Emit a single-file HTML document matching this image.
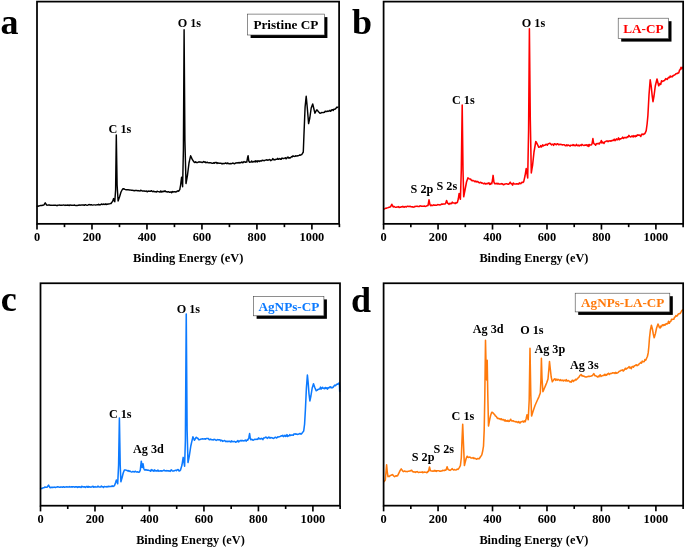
<!DOCTYPE html>
<html><head><meta charset="utf-8"><title>XPS survey spectra</title>
<style>
html,body{margin:0;padding:0;background:#fff;}
body{width:685px;height:547px;overflow:hidden;}
svg{will-change:transform;}
svg text{font-family:"Liberation Serif",serif;font-weight:bold;}
.tk{font-size:12.4px;fill:#000;}
.tt{font-size:12.5px;fill:#000;}
.lb{font-size:12.2px;fill:#000;}
.lg{font-size:13.2px;}
.pl{font-size:36px;fill:#000;}
</style></head><body>
<svg width="685" height="547" viewBox="0 0 685 547" style="display:block">
<rect x="0" y="0" width="685" height="547" fill="#ffffff"/>
<polyline fill="none" stroke="#000000" stroke-width="1.45" stroke-linejoin="round" stroke-linecap="round" points="37.20,206.26 37.96,206.24 38.72,205.98 39.48,205.83 40.24,205.58 41.00,205.58 41.75,205.59 42.50,205.27 43.25,205.18 44.00,204.80 44.60,203.80 45.20,202.80 45.90,203.90 46.60,205.00 47.28,205.15 47.96,205.21 48.64,204.88 49.32,204.93 50.00,205.22 50.71,205.21 51.43,205.34 52.14,205.27 52.86,205.36 53.57,205.15 54.29,205.31 55.00,205.32 55.71,205.12 56.43,205.55 57.14,205.33 57.86,205.44 58.57,205.10 59.29,205.07 60.00,205.17 60.71,205.18 61.43,205.33 62.14,205.26 62.86,205.13 63.57,205.04 64.29,205.13 65.00,205.47 65.71,205.08 66.43,205.29 67.14,205.33 67.86,204.97 68.57,205.27 69.29,205.52 70.00,204.87 70.71,205.21 71.43,205.26 72.14,205.12 72.86,205.38 73.57,205.28 74.29,205.00 75.00,205.38 75.71,205.42 76.43,205.46 77.14,205.55 77.86,205.32 78.57,205.25 79.29,204.95 80.00,205.33 80.71,205.06 81.43,205.08 82.14,204.90 82.86,204.94 83.57,205.02 84.29,205.38 85.00,204.68 85.71,204.78 86.43,205.12 87.14,205.36 87.86,205.16 88.57,204.63 89.29,204.48 90.00,205.04 90.71,204.81 91.43,204.70 92.14,205.12 92.86,205.12 93.57,204.89 94.29,204.88 95.00,204.89 95.71,205.12 96.43,204.88 97.14,204.83 97.86,204.81 98.57,204.31 99.29,204.91 100.00,204.71 100.73,204.66 101.45,204.05 102.18,204.29 102.91,204.57 103.64,203.92 104.36,204.23 105.09,204.45 105.82,203.87 106.55,204.47 107.27,204.18 108.00,203.98 108.75,203.92 109.50,203.85 110.25,203.58 111.00,203.53 111.80,202.30 112.60,201.50 113.60,198.60 114.20,200.20 114.80,201.80 115.60,190.00 116.30,135.00 117.10,185.00 118.10,201.00 118.80,199.00 119.50,197.00 120.25,194.50 121.00,192.00 121.80,190.50 122.60,189.00 123.40,188.79 124.20,189.01 125.00,189.38 125.71,189.68 126.43,189.71 127.14,189.68 127.86,189.74 128.57,189.84 129.29,190.04 130.00,189.98 130.71,190.13 131.43,190.26 132.14,190.17 132.86,190.42 133.57,190.43 134.29,190.85 135.00,190.48 135.71,190.35 136.43,190.42 137.14,190.57 137.86,190.86 138.57,190.60 139.29,190.84 140.00,191.04 140.71,190.17 141.43,190.58 142.14,190.97 142.86,191.05 143.57,191.04 144.29,190.90 145.00,191.22 145.71,191.16 146.43,190.98 147.14,191.80 147.86,191.29 148.57,191.08 149.29,191.24 150.00,191.27 150.71,191.32 151.43,190.64 152.14,191.28 152.86,191.71 153.57,191.16 154.29,191.50 155.00,191.81 155.71,191.82 156.43,192.03 157.14,191.19 157.86,191.60 158.57,191.64 159.29,191.94 160.00,191.95 160.67,191.03 161.33,192.03 162.00,191.30 162.67,191.86 163.33,191.22 164.00,191.62 165.00,190.67 166.00,191.68 166.71,191.78 167.43,191.98 168.14,191.83 168.86,191.79 169.57,192.28 170.29,192.17 171.00,191.86 171.71,192.65 172.43,191.51 173.14,192.08 173.86,191.71 174.57,191.80 175.29,191.93 176.00,191.73 176.65,191.76 177.30,191.01 177.95,190.89 178.60,191.20 179.20,190.40 179.80,189.60 180.60,185.00 181.60,177.20 182.60,186.70 183.40,150.00 184.10,29.70 184.90,140.00 185.45,161.75 186.00,183.50 186.75,179.25 187.50,175.00 188.25,169.00 189.00,163.00 189.80,159.40 190.60,155.80 191.45,157.65 192.30,159.50 192.90,160.37 193.50,161.23 194.10,162.10 194.84,162.55 195.57,161.76 196.31,162.41 197.05,162.51 197.79,162.49 198.53,161.97 199.26,161.78 200.00,162.16 200.71,162.09 201.43,162.14 202.14,162.60 202.86,162.12 203.57,161.53 204.29,162.18 205.00,161.77 205.71,162.66 206.43,162.55 207.14,162.31 207.86,162.55 208.57,162.87 209.29,162.68 210.00,162.91 210.71,162.72 211.43,163.12 212.14,163.31 212.86,163.39 213.57,162.70 214.29,163.24 215.00,162.39 215.71,162.69 216.43,162.45 217.14,163.48 217.86,162.77 218.57,163.21 219.29,163.19 220.00,163.30 220.69,163.12 221.38,163.41 222.07,163.94 222.76,163.37 223.45,163.55 224.14,163.72 224.83,163.34 225.52,163.00 226.21,163.25 226.90,163.81 227.59,162.91 228.28,163.28 228.97,163.83 229.66,163.78 230.35,163.53 231.04,163.81 231.73,163.61 232.42,163.17 233.11,163.05 233.80,163.49 234.49,163.83 235.18,163.23 235.87,163.02 236.56,162.98 237.24,162.63 237.93,163.03 238.62,162.57 239.31,163.01 240.00,162.39 240.68,162.84 241.36,162.44 242.04,161.91 242.72,162.77 243.40,162.35 244.08,161.60 244.76,162.00 245.44,162.34 246.12,162.01 246.80,162.10 247.50,158.00 248.10,155.80 248.80,161.00 249.60,162.24 250.29,162.15 250.99,162.00 251.68,161.02 252.37,162.00 253.07,162.07 253.76,161.41 254.45,161.27 255.15,162.06 255.84,160.65 256.53,161.37 257.23,162.00 257.92,160.70 258.61,161.21 259.31,161.57 260.00,160.78 260.71,160.93 261.43,160.99 262.14,160.25 262.86,160.48 263.57,160.55 264.29,160.68 265.00,160.29 265.71,160.16 266.43,159.78 267.14,159.95 267.86,160.35 268.57,159.98 269.29,159.55 270.00,159.64 270.70,160.73 271.40,160.09 272.10,159.83 272.80,158.55 273.50,159.68 274.20,159.56 274.90,159.95 275.60,159.40 276.30,159.14 277.00,159.30 277.70,158.29 278.40,159.35 279.10,159.01 279.80,158.55 280.50,159.26 281.20,159.37 281.90,158.07 282.60,158.28 283.30,158.58 284.00,158.44 284.69,158.11 285.38,157.76 286.06,158.83 286.75,158.28 287.44,157.28 288.12,157.09 288.81,158.15 289.50,157.74 290.19,157.93 290.88,157.40 291.56,156.61 292.25,156.93 292.94,155.84 293.62,156.27 294.31,156.41 295.00,156.40 295.67,155.84 296.34,155.91 297.01,155.97 297.68,155.77 298.35,155.70 299.02,155.36 299.69,154.98 300.36,155.26 301.03,154.79 301.70,154.60 302.50,153.30 303.30,152.00 303.90,136.20 304.50,121.60 305.10,107.00 305.65,101.65 306.20,96.30 306.75,102.15 307.30,108.00 307.95,115.80 308.60,123.60 309.20,120.80 309.80,118.00 310.50,113.00 311.20,108.00 311.95,106.00 312.70,104.00 313.25,106.25 313.80,108.50 314.35,110.85 314.90,113.20 315.45,112.20 316.00,111.20 316.55,109.98 317.10,109.90 317.80,110.85 318.50,111.80 319.25,112.47 320.00,113.31 320.75,113.10 321.50,112.59 322.25,112.65 323.00,112.55 323.72,112.45 324.44,112.31 325.16,111.26 325.88,111.50 326.60,111.55 327.28,111.07 327.96,111.45 328.64,111.05 329.32,110.99 330.00,110.35 330.65,111.29 331.30,110.53 331.95,109.71 332.60,109.64 333.25,110.52 333.90,109.13 334.60,109.24 335.30,108.96 336.00,108.20 336.67,107.29 337.33,107.48 338.00,107.00"/>
<rect x="37.00" y="1.60" width="302.10" height="222.25" fill="none" stroke="#000" stroke-width="1.75"/>
<line x1="37.00" y1="223.85" x2="37.00" y2="229.55" stroke="#000" stroke-width="1.65"/>
<text x="37.00" y="241.30" text-anchor="middle" class="tk">0</text>
<line x1="64.49" y1="223.85" x2="64.49" y2="227.15" stroke="#000" stroke-width="1.65"/>
<line x1="91.98" y1="223.85" x2="91.98" y2="229.55" stroke="#000" stroke-width="1.65"/>
<text x="91.98" y="241.30" text-anchor="middle" class="tk">200</text>
<line x1="119.47" y1="223.85" x2="119.47" y2="227.15" stroke="#000" stroke-width="1.65"/>
<line x1="146.96" y1="223.85" x2="146.96" y2="229.55" stroke="#000" stroke-width="1.65"/>
<text x="146.96" y="241.30" text-anchor="middle" class="tk">400</text>
<line x1="174.45" y1="223.85" x2="174.45" y2="227.15" stroke="#000" stroke-width="1.65"/>
<line x1="201.94" y1="223.85" x2="201.94" y2="229.55" stroke="#000" stroke-width="1.65"/>
<text x="201.94" y="241.30" text-anchor="middle" class="tk">600</text>
<line x1="229.43" y1="223.85" x2="229.43" y2="227.15" stroke="#000" stroke-width="1.65"/>
<line x1="256.92" y1="223.85" x2="256.92" y2="229.55" stroke="#000" stroke-width="1.65"/>
<text x="256.92" y="241.30" text-anchor="middle" class="tk">800</text>
<line x1="284.41" y1="223.85" x2="284.41" y2="227.15" stroke="#000" stroke-width="1.65"/>
<line x1="311.90" y1="223.85" x2="311.90" y2="229.55" stroke="#000" stroke-width="1.65"/>
<text x="311.90" y="241.30" text-anchor="middle" class="tk">1000</text>
<line x1="339.39" y1="223.85" x2="339.39" y2="227.15" stroke="#000" stroke-width="1.65"/>
<text x="188.20" y="262.30" text-anchor="middle" class="tt" style="font-size:12.50px">Binding Energy (eV)</text>
<text x="108.60" y="133.20" class="lb">C 1s</text>
<text x="177.70" y="27.40" class="lb">O 1s</text>
<text x="0.40" y="34.00" class="pl">a</text>
<rect x="250.60" y="17.10" width="76.80" height="20.90" fill="#000"/>
<rect x="247.60" y="14.10" width="76.80" height="20.90" fill="#fff" stroke="#444" stroke-width="0.6"/>
<text x="253.40" y="29.10" class="lg" fill="#000000">Pristine CP</text>
<polyline fill="none" stroke="#ff0000" stroke-width="1.55" stroke-linejoin="round" stroke-linecap="round" points="383.80,208.90 384.44,208.92 385.08,208.62 385.72,208.21 386.36,208.24 387.00,207.88 387.70,207.66 388.40,207.42 389.10,207.13 389.80,207.20 390.50,206.80 391.15,205.55 391.80,204.30 392.50,205.65 393.20,207.00 393.96,206.42 394.72,206.84 395.48,207.23 396.24,207.25 397.00,207.09 397.73,207.00 398.45,206.62 399.18,207.57 399.91,207.15 400.64,207.30 401.36,206.66 402.09,206.85 402.82,206.32 403.55,207.10 404.27,207.12 405.00,206.50 405.71,206.77 406.43,206.97 407.14,206.20 407.86,206.16 408.57,206.39 409.29,206.51 410.00,206.25 410.71,206.70 411.43,206.75 412.14,206.86 412.86,206.87 413.57,207.12 414.29,207.00 415.00,206.38 415.72,206.40 416.44,206.19 417.16,206.15 417.88,206.45 418.59,206.45 419.31,206.58 420.03,205.85 420.75,205.93 421.47,206.31 422.19,206.22 422.91,206.15 423.62,206.20 424.34,205.93 425.06,206.40 425.78,206.25 426.50,206.08 427.25,205.62 428.00,205.60 429.00,199.80 430.00,204.80 430.80,205.61 431.49,205.00 432.18,205.54 432.87,205.45 433.56,204.84 434.24,205.18 434.93,205.09 435.62,205.30 436.31,205.29 437.00,204.99 437.71,204.62 438.42,204.81 439.13,204.77 439.84,204.99 440.55,204.76 441.26,204.31 441.97,204.01 442.68,204.30 443.39,204.09 444.10,204.09 444.85,203.91 445.60,203.60 446.60,200.60 447.60,203.20 448.30,203.52 448.97,204.40 449.64,203.31 450.31,203.76 450.99,203.30 451.66,203.60 452.33,202.17 453.00,202.85 453.73,202.98 454.47,203.00 455.20,203.56 455.93,202.66 456.67,202.92 457.40,202.30 458.30,199.00 459.10,193.50 459.75,196.40 460.40,199.30 461.30,170.00 462.20,105.10 463.00,170.00 463.70,196.80 464.35,193.40 465.00,190.00 465.75,186.00 466.50,182.00 467.20,179.95 467.90,177.90 468.60,178.37 469.30,178.87 470.00,179.15 470.70,179.01 471.40,180.39 472.10,180.69 472.80,180.34 473.50,180.78 474.20,180.91 474.93,181.78 475.65,181.08 476.38,181.85 477.10,181.55 477.82,181.64 478.55,182.43 479.27,182.88 480.00,182.50 480.69,182.33 481.38,183.10 482.06,182.85 482.75,183.13 483.44,183.79 484.12,183.74 484.81,183.15 485.50,184.00 486.20,183.52 486.90,183.89 487.60,183.28 488.30,183.57 489.00,182.84 489.70,184.42 490.40,184.26 491.10,183.14 491.80,183.70 492.50,180.00 493.10,175.40 493.90,182.00 494.60,183.70 495.28,183.60 495.95,183.72 496.62,183.32 497.30,183.86 497.98,183.23 498.65,183.89 499.32,184.10 500.00,184.11 500.68,183.91 501.35,183.62 502.02,184.12 502.70,183.84 503.38,184.81 504.05,184.46 504.73,184.06 505.40,183.91 506.08,183.82 506.75,183.73 507.43,184.02 508.10,184.27 508.70,184.14 509.30,183.60 510.20,182.20 511.20,183.80 511.89,183.82 512.57,185.16 513.26,182.95 513.94,183.61 514.63,183.95 515.31,183.96 516.00,184.00 516.67,183.76 517.34,184.02 518.01,183.84 518.69,184.16 519.36,182.83 520.03,183.30 520.70,183.70 521.45,182.69 522.20,182.19 522.95,182.51 523.70,181.70 524.35,178.85 525.00,176.00 525.60,172.30 526.20,168.60 526.95,173.30 527.70,178.00 528.60,130.00 529.40,28.80 530.30,120.00 531.30,172.90 531.95,168.95 532.60,165.00 533.30,158.50 534.00,152.00 534.60,148.50 535.20,145.00 535.80,141.50 536.50,142.75 537.20,144.00 538.00,145.65 538.80,147.30 539.44,147.03 540.08,146.77 540.72,145.59 541.36,147.01 542.00,146.24 542.67,144.85 543.33,145.92 544.00,145.23 544.67,145.30 545.33,145.03 546.00,144.20 546.67,144.39 547.34,145.19 548.01,143.99 548.69,143.65 549.36,143.37 550.03,143.35 550.70,143.99 551.42,144.86 552.13,144.24 552.85,144.19 553.56,145.32 554.28,143.89 554.99,143.86 555.71,144.56 556.42,144.63 557.14,143.83 557.85,143.80 558.57,144.65 559.28,144.68 560.00,144.24 560.73,144.54 561.45,144.41 562.18,145.02 562.91,144.75 563.64,144.82 564.36,144.73 565.09,145.57 565.82,145.81 566.55,144.89 567.27,145.62 568.00,144.99 568.71,145.28 569.42,145.70 570.13,146.17 570.84,145.13 571.55,145.34 572.25,145.53 572.96,144.60 573.67,145.50 574.38,145.14 575.09,145.78 575.80,145.28 576.48,144.43 577.17,145.56 577.85,145.65 578.53,145.15 579.22,145.95 579.90,145.24 580.58,145.01 581.27,145.61 581.95,144.38 582.63,144.87 583.32,145.22 584.00,145.45 584.69,145.07 585.38,145.32 586.07,144.72 586.76,145.26 587.45,146.04 588.14,144.61 588.83,146.40 589.52,144.58 590.21,144.94 590.90,144.95 591.50,144.81 592.10,143.50 592.90,138.60 593.60,143.00 594.20,143.90 594.93,144.15 595.65,145.24 596.38,143.65 597.10,143.55 597.83,143.84 598.55,143.37 599.27,144.04 600.00,142.52 600.67,142.53 601.33,140.50 602.00,142.97 602.67,142.09 603.33,142.75 604.00,143.37 604.67,141.89 605.33,141.59 606.00,141.44 606.68,140.94 607.36,140.93 608.05,141.59 608.73,141.08 609.41,140.96 610.09,140.67 610.77,141.22 611.45,140.82 612.14,140.28 612.82,140.66 613.50,140.05 614.22,139.20 614.94,140.69 615.67,139.90 616.39,138.82 617.11,139.96 617.83,139.32 618.56,137.93 619.28,139.80 620.00,138.71 620.67,139.04 621.33,138.46 622.00,138.10 622.67,137.07 623.33,138.56 624.00,137.82 624.67,137.48 625.33,137.76 626.00,137.43 626.73,137.68 627.46,136.84 628.19,136.90 628.91,135.37 629.64,136.34 630.37,136.90 631.10,136.74 631.79,135.95 632.48,136.00 633.17,137.02 633.86,135.64 634.55,136.24 635.24,136.76 635.93,135.56 636.62,136.24 637.31,134.83 638.00,135.27 638.71,135.04 639.42,135.05 640.14,135.62 640.85,136.36 641.56,134.19 642.28,134.14 642.99,134.75 643.70,133.94 644.45,133.99 645.20,133.00 646.20,130.60 647.10,124.00 647.90,115.50 648.45,105.25 649.00,95.00 649.60,87.40 650.20,79.80 651.20,86.00 652.20,96.00 653.00,101.70 654.00,96.00 654.65,91.00 655.30,86.00 656.15,82.50 657.00,79.00 657.90,82.50 658.70,85.80 659.35,84.65 660.00,83.50 660.76,84.42 661.52,80.82 662.28,81.55 663.04,81.24 663.80,80.64 664.50,80.46 665.20,79.47 665.90,78.60 666.60,79.11 667.30,79.46 668.00,78.01 668.73,77.34 669.45,77.73 670.17,76.03 670.90,76.91 671.62,76.46 672.35,76.78 673.07,75.62 673.80,75.48 674.50,74.96 675.20,74.66 675.90,73.67 676.60,73.61 677.30,73.60 678.00,72.93 678.76,72.89 679.52,70.20 680.28,69.61 681.04,67.23 681.80,68.90 682.80,67.20"/>
<rect x="383.60" y="1.60" width="299.55" height="222.25" fill="none" stroke="#000" stroke-width="1.75"/>
<line x1="383.60" y1="223.85" x2="383.60" y2="229.55" stroke="#000" stroke-width="1.65"/>
<text x="383.60" y="241.30" text-anchor="middle" class="tk">0</text>
<line x1="410.83" y1="223.85" x2="410.83" y2="227.15" stroke="#000" stroke-width="1.65"/>
<line x1="438.06" y1="223.85" x2="438.06" y2="229.55" stroke="#000" stroke-width="1.65"/>
<text x="438.06" y="241.30" text-anchor="middle" class="tk">200</text>
<line x1="465.29" y1="223.85" x2="465.29" y2="227.15" stroke="#000" stroke-width="1.65"/>
<line x1="492.52" y1="223.85" x2="492.52" y2="229.55" stroke="#000" stroke-width="1.65"/>
<text x="492.52" y="241.30" text-anchor="middle" class="tk">400</text>
<line x1="519.75" y1="223.85" x2="519.75" y2="227.15" stroke="#000" stroke-width="1.65"/>
<line x1="546.98" y1="223.85" x2="546.98" y2="229.55" stroke="#000" stroke-width="1.65"/>
<text x="546.98" y="241.30" text-anchor="middle" class="tk">600</text>
<line x1="574.21" y1="223.85" x2="574.21" y2="227.15" stroke="#000" stroke-width="1.65"/>
<line x1="601.44" y1="223.85" x2="601.44" y2="229.55" stroke="#000" stroke-width="1.65"/>
<text x="601.44" y="241.30" text-anchor="middle" class="tk">800</text>
<line x1="628.67" y1="223.85" x2="628.67" y2="227.15" stroke="#000" stroke-width="1.65"/>
<line x1="655.90" y1="223.85" x2="655.90" y2="229.55" stroke="#000" stroke-width="1.65"/>
<text x="655.90" y="241.30" text-anchor="middle" class="tk">1000</text>
<line x1="683.13" y1="223.85" x2="683.13" y2="227.15" stroke="#000" stroke-width="1.65"/>
<text x="533.92" y="262.30" text-anchor="middle" class="tt" style="font-size:12.35px">Binding Energy (eV)</text>
<text x="452.00" y="103.80" class="lb">C 1s</text>
<text x="521.80" y="27.30" class="lb">O 1s</text>
<text x="410.60" y="192.80" class="lb">S 2p</text>
<text x="436.50" y="190.00" class="lb">S 2s</text>
<text x="352.00" y="34.00" class="pl">b</text>
<rect x="621.20" y="21.20" width="50.30" height="20.40" fill="#000"/>
<rect x="618.20" y="18.20" width="50.30" height="20.40" fill="#fff" stroke="#444" stroke-width="0.6"/>
<text x="623.20" y="32.60" class="lg" fill="#ff0000">LA-CP</text>
<polyline fill="none" stroke="#0c7aff" stroke-width="1.55" stroke-linejoin="round" stroke-linecap="round" points="40.70,488.64 41.47,488.53 42.23,488.38 43.00,487.85 43.67,487.83 44.33,487.46 45.00,487.00 45.77,487.20 46.53,487.33 47.30,487.00 47.95,486.05 48.60,485.10 49.20,486.25 49.80,487.40 50.50,487.66 51.20,487.28 51.90,487.50 52.60,487.17 53.30,487.40 54.00,487.11 54.70,487.15 55.40,487.56 56.10,487.24 56.80,487.08 57.50,486.83 58.20,486.89 58.90,487.11 59.60,487.26 60.30,487.12 61.00,487.06 61.70,486.99 62.40,487.31 63.10,486.89 63.80,486.85 64.50,487.19 65.20,486.99 65.90,486.90 66.60,486.82 67.30,486.89 68.00,487.10 68.70,487.03 69.40,486.64 70.10,487.04 70.80,486.97 71.50,486.67 72.20,487.11 72.90,486.84 73.60,486.83 74.30,487.11 75.00,487.07 75.69,486.72 76.38,487.01 77.06,486.67 77.75,487.50 78.44,486.77 79.12,487.21 79.81,486.73 80.50,487.11 81.19,487.48 81.88,486.23 82.56,486.79 83.25,487.03 83.94,486.88 84.62,486.72 85.31,487.47 86.00,486.91 86.70,486.45 87.40,487.12 88.10,486.42 88.80,487.19 89.50,486.72 90.20,486.91 90.90,487.21 91.60,486.89 92.30,486.47 93.00,486.38 93.70,487.17 94.40,487.05 95.10,486.61 95.80,487.07 96.50,486.96 97.20,487.00 97.90,486.18 98.60,486.72 99.30,487.06 100.00,486.90 100.71,487.03 101.42,486.06 102.14,486.79 102.85,486.87 103.56,487.44 104.28,486.41 104.99,486.57 105.70,486.66 106.41,486.89 107.12,486.48 107.84,486.93 108.55,486.34 109.26,486.63 109.98,486.38 110.69,486.57 111.40,486.40 112.15,485.85 112.90,486.48 113.65,486.07 114.40,485.80 115.00,484.15 115.60,482.50 116.40,480.00 117.05,481.90 117.70,483.80 118.60,465.00 119.40,418.00 120.20,465.00 120.90,481.80 121.45,479.90 122.00,478.00 122.60,475.50 123.20,473.00 123.80,471.50 124.40,470.00 125.05,469.92 125.70,470.11 126.35,470.26 127.00,470.42 127.75,470.98 128.50,470.55 129.25,471.36 130.00,471.01 130.75,471.63 131.50,471.92 132.23,471.79 132.95,471.52 133.68,471.80 134.41,471.86 135.14,471.27 135.86,471.67 136.59,471.94 137.32,471.76 138.05,471.97 138.77,472.21 139.50,472.00 140.30,470.00 141.30,461.20 142.10,467.50 143.00,463.70 143.80,468.50 144.50,470.00 145.19,470.00 145.88,469.54 146.56,470.07 147.25,470.24 147.94,469.98 148.62,470.37 149.31,470.61 150.00,470.47 150.67,471.25 151.33,469.67 152.00,470.53 152.67,470.00 153.33,471.01 154.00,471.16 154.67,469.85 155.33,470.79 156.00,470.95 156.67,470.68 157.33,471.00 158.00,470.04 158.67,471.16 159.33,471.01 160.00,470.90 160.67,470.67 161.34,471.09 162.01,470.67 162.68,470.90 163.35,470.62 164.02,469.97 164.69,470.75 165.36,470.81 166.03,470.99 166.70,470.54 167.39,470.67 168.08,470.89 168.77,470.70 169.47,471.09 170.16,471.35 170.85,470.27 171.54,469.88 172.23,470.88 172.93,471.12 173.62,470.88 174.31,470.82 175.00,470.38 175.69,470.17 176.38,470.71 177.06,469.97 177.75,469.57 178.44,469.81 179.12,471.06 179.81,470.79 180.50,470.00 181.25,467.50 182.00,465.00 182.60,461.20 183.20,457.40 183.90,461.80 184.60,466.20 185.40,440.00 186.25,314.00 187.10,430.00 188.00,462.50 188.65,459.25 189.30,456.00 190.05,451.00 190.80,446.00 191.50,442.93 192.20,439.87 192.90,436.80 193.65,438.55 194.40,440.30 195.25,438.80 196.10,437.30 196.72,437.61 197.35,438.27 197.97,438.33 198.60,439.77 199.28,439.79 199.96,439.61 200.64,439.15 201.32,438.93 202.00,438.99 202.70,438.77 203.40,439.03 204.10,438.94 204.80,438.75 205.50,439.17 206.20,438.48 206.91,438.54 207.62,438.45 208.33,438.54 209.04,439.60 209.75,439.78 210.45,439.15 211.16,439.47 211.87,439.82 212.58,439.75 213.29,440.01 214.00,439.34 214.73,439.40 215.46,439.93 216.19,440.41 216.92,439.92 217.65,439.59 218.38,439.87 219.11,439.81 219.84,439.80 220.57,440.87 221.30,440.17 221.97,440.40 222.64,441.41 223.31,441.08 223.98,440.80 224.65,440.49 225.32,441.02 225.99,441.63 226.66,441.29 227.33,441.66 228.00,441.22 228.72,441.47 229.45,441.21 230.18,441.54 230.90,441.97 231.62,440.82 232.35,441.47 233.08,441.66 233.80,441.47 234.49,441.40 235.18,441.81 235.87,442.29 236.56,441.61 237.24,441.41 237.93,440.51 238.62,441.99 239.31,441.10 240.00,440.99 240.69,440.43 241.38,440.85 242.07,440.32 242.76,440.78 243.45,440.89 244.15,440.63 244.84,440.68 245.53,440.10 246.22,441.08 246.91,440.07 247.60,440.30 248.20,439.15 248.80,438.00 249.60,433.60 250.30,438.60 250.90,439.80 251.60,439.18 252.30,439.58 253.00,440.23 253.70,439.81 254.40,439.34 255.10,439.40 255.80,439.21 256.50,439.16 257.20,439.45 257.90,438.99 258.60,437.82 259.30,438.87 260.00,438.59 260.72,439.05 261.44,438.39 262.16,438.68 262.88,439.58 263.59,437.99 264.31,437.89 265.03,437.69 265.75,437.15 266.47,437.34 267.19,438.35 267.91,437.81 268.62,437.15 269.34,437.27 270.06,438.22 270.78,437.49 271.50,437.71 272.21,437.85 272.92,438.24 273.62,438.42 274.33,437.87 275.04,437.33 275.75,437.24 276.46,437.93 277.17,437.64 277.88,436.67 278.58,436.94 279.29,436.75 280.00,436.51 280.70,436.16 281.40,435.66 282.10,435.96 282.80,435.36 283.50,436.65 284.20,436.21 284.90,435.25 285.60,436.46 286.30,436.12 287.00,434.62 287.70,436.41 288.40,435.80 289.10,435.82 289.79,434.59 290.48,435.39 291.17,435.25 291.86,435.04 292.55,434.94 293.24,435.30 293.93,433.91 294.62,433.94 295.31,433.77 296.00,434.26 296.71,433.99 297.43,434.39 298.14,434.24 298.85,434.02 299.56,433.55 300.27,433.57 300.99,434.20 301.70,433.60 302.37,432.73 303.03,431.87 303.70,431.00 304.60,424.00 305.40,409.70 306.40,388.00 307.40,375.00 308.20,383.00 309.00,394.00 309.90,400.90 310.90,396.00 311.55,392.00 312.20,388.00 312.85,385.90 313.50,383.80 314.15,385.65 314.80,387.50 315.50,389.15 316.20,390.80 316.97,390.41 317.73,389.43 318.50,389.38 319.16,389.02 319.82,388.95 320.48,387.17 321.14,389.11 321.80,388.31 322.50,387.28 323.20,388.25 323.90,388.41 324.60,388.69 325.30,387.46 326.00,388.42 326.73,387.80 327.45,389.09 328.18,387.58 328.90,387.93 329.62,387.23 330.35,386.71 331.07,387.82 331.80,387.35 332.54,387.70 333.28,387.06 334.02,386.00 334.76,385.13 335.50,385.62 336.27,384.80 337.05,384.09 337.83,384.25 338.60,383.39 339.20,383.00 339.50,386.00 339.70,391.50"/>
<rect x="40.50" y="283.25" width="299.50" height="222.45" fill="none" stroke="#000" stroke-width="1.75"/>
<line x1="40.50" y1="505.70" x2="40.50" y2="511.40" stroke="#000" stroke-width="1.65"/>
<text x="40.50" y="522.80" text-anchor="middle" class="tk">0</text>
<line x1="67.74" y1="505.70" x2="67.74" y2="509.00" stroke="#000" stroke-width="1.65"/>
<line x1="94.98" y1="505.70" x2="94.98" y2="511.40" stroke="#000" stroke-width="1.65"/>
<text x="94.98" y="522.80" text-anchor="middle" class="tk">200</text>
<line x1="122.22" y1="505.70" x2="122.22" y2="509.00" stroke="#000" stroke-width="1.65"/>
<line x1="149.46" y1="505.70" x2="149.46" y2="511.40" stroke="#000" stroke-width="1.65"/>
<text x="149.46" y="522.80" text-anchor="middle" class="tk">400</text>
<line x1="176.70" y1="505.70" x2="176.70" y2="509.00" stroke="#000" stroke-width="1.65"/>
<line x1="203.94" y1="505.70" x2="203.94" y2="511.40" stroke="#000" stroke-width="1.65"/>
<text x="203.94" y="522.80" text-anchor="middle" class="tk">600</text>
<line x1="231.18" y1="505.70" x2="231.18" y2="509.00" stroke="#000" stroke-width="1.65"/>
<line x1="258.42" y1="505.70" x2="258.42" y2="511.40" stroke="#000" stroke-width="1.65"/>
<text x="258.42" y="522.80" text-anchor="middle" class="tk">800</text>
<line x1="285.66" y1="505.70" x2="285.66" y2="509.00" stroke="#000" stroke-width="1.65"/>
<line x1="312.90" y1="505.70" x2="312.90" y2="511.40" stroke="#000" stroke-width="1.65"/>
<text x="312.90" y="522.80" text-anchor="middle" class="tk">1000</text>
<line x1="340.14" y1="505.70" x2="340.14" y2="509.00" stroke="#000" stroke-width="1.65"/>
<text x="190.45" y="543.60" text-anchor="middle" class="tt" style="font-size:12.30px">Binding Energy (eV)</text>
<text x="108.90" y="418.10" class="lb">C 1s</text>
<text x="176.70" y="313.00" class="lb">O 1s</text>
<text x="133.00" y="452.90" class="lb">Ag 3d</text>
<text x="0.70" y="311.20" class="pl">c</text>
<rect x="256.60" y="299.40" width="70.30" height="19.40" fill="#000"/>
<rect x="253.60" y="296.40" width="70.30" height="19.40" fill="#fff" stroke="#444" stroke-width="0.6"/>
<text x="258.50" y="310.70" class="lg" fill="#0c7aff">AgNPs-CP</text>
<polyline fill="none" stroke="#ff7a0c" stroke-width="1.55" stroke-linejoin="round" stroke-linecap="round" points="383.80,481.76 384.55,480.96 385.30,480.00 386.00,472.00 386.60,464.80 387.30,472.00 388.00,476.60 388.73,476.36 389.47,476.37 390.20,475.58 390.93,475.34 391.67,475.07 392.40,474.50 392.95,475.01 393.50,475.70 394.05,476.35 394.60,476.72 395.33,476.08 396.05,475.75 396.77,476.12 397.50,475.80 398.25,474.30 399.00,472.80 399.60,471.60 400.20,470.40 401.20,468.90 402.20,470.20 402.75,470.94 403.30,471.62 403.97,471.32 404.64,470.93 405.31,471.55 405.99,471.59 406.66,471.43 407.33,471.68 408.00,471.31 408.80,471.18 409.60,470.91 410.40,470.89 411.40,470.24 411.95,470.52 412.50,471.51 413.20,471.92 413.90,471.82 414.58,471.94 415.26,472.36 415.93,471.81 416.61,471.89 417.29,471.65 417.97,472.18 418.64,472.51 419.32,472.31 420.00,472.27 420.72,472.17 421.44,472.32 422.17,471.84 422.89,472.67 423.61,472.23 424.33,472.04 425.06,472.19 425.78,472.20 426.50,472.64 427.17,472.51 427.83,471.39 428.50,471.50 429.50,467.00 430.40,470.60 431.00,470.95 431.67,470.93 432.33,470.94 433.00,471.25 433.67,470.99 434.33,470.41 435.00,471.15 435.67,470.52 436.33,471.33 437.00,470.79 437.71,470.73 438.42,470.65 439.13,470.72 439.84,471.33 440.55,471.14 441.26,471.03 441.97,470.90 442.68,470.22 443.39,470.55 444.10,470.60 444.77,470.06 445.43,470.28 446.10,469.80 447.10,466.70 448.00,469.50 448.60,469.63 449.33,470.15 450.07,470.35 450.80,469.86 451.53,469.38 452.27,468.68 453.00,469.63 453.70,469.99 454.40,469.59 455.10,469.77 455.80,469.92 456.50,469.73 457.20,469.09 457.90,469.40 458.60,468.69 459.30,467.60 459.85,466.55 460.40,465.50 461.30,458.00 462.00,440.00 462.70,424.30 463.40,442.00 464.40,465.50 464.95,463.25 465.50,461.00 466.30,458.00 467.20,456.20 467.80,457.27 468.40,457.51 469.00,456.96 469.68,457.33 470.35,457.39 471.02,458.06 471.70,458.10 472.36,458.03 473.02,457.57 473.68,458.49 474.34,458.11 475.00,458.52 475.70,458.55 476.40,459.15 477.10,459.00 477.80,458.42 478.50,458.79 479.20,458.70 479.85,457.75 480.50,456.80 481.15,455.85 481.80,454.90 482.70,451.00 483.50,446.10 484.20,430.00 484.80,397.00 485.50,340.20 486.20,372.00 486.60,380.00 487.20,360.30 487.80,395.00 488.50,426.00 489.40,421.00 490.00,418.25 490.60,415.50 491.20,413.85 491.80,412.20 492.65,412.51 493.50,413.60 494.17,414.06 494.83,414.94 495.50,416.11 496.15,416.33 496.80,417.27 497.45,418.41 498.10,418.31 498.80,418.45 499.50,419.05 500.20,418.78 500.90,419.63 501.60,418.81 502.30,419.85 503.00,419.69 503.71,419.58 504.42,420.84 505.13,419.83 505.84,421.11 506.56,420.76 507.27,421.24 507.98,420.30 508.69,421.40 509.40,421.32 510.10,420.20 510.70,419.20 511.40,420.80 512.06,420.99 512.71,420.84 513.37,420.86 514.03,421.46 514.69,421.52 515.34,421.57 516.00,421.99 516.67,421.55 517.34,422.02 518.01,422.57 518.69,421.54 519.36,422.58 520.03,423.04 520.70,421.99 521.45,421.69 522.20,421.62 522.95,421.14 523.70,422.11 524.45,420.93 525.20,421.70 526.20,418.50 527.00,414.70 527.60,417.20 528.20,419.70 529.20,400.00 530.00,348.20 530.80,395.00 531.60,416.00 532.30,413.75 533.00,411.50 533.67,409.50 534.33,407.50 535.00,405.50 535.67,404.00 536.33,402.50 537.00,401.00 537.67,399.53 538.33,398.07 539.00,396.60 539.65,394.80 540.30,393.00 540.90,380.00 541.40,358.30 542.00,378.00 542.90,391.70 543.70,389.85 544.50,388.00 545.20,386.33 545.90,384.67 546.60,383.00 547.30,381.00 548.00,379.00 548.80,370.00 549.50,361.60 550.30,369.00 551.20,377.00 551.75,379.35 552.30,381.70 552.97,380.82 553.63,379.96 554.30,378.95 555.04,378.86 555.78,380.37 556.52,379.21 557.26,380.13 558.00,379.36 558.67,379.76 559.33,380.14 560.00,380.64 560.67,379.62 561.33,380.61 562.00,380.50 562.72,380.11 563.44,380.85 564.16,380.23 564.88,380.38 565.60,380.90 566.33,379.58 567.06,381.07 567.79,380.71 568.51,380.58 569.24,381.25 569.97,381.99 570.70,381.59 571.36,382.12 572.02,380.56 572.68,380.22 573.34,381.49 574.00,380.51 574.73,380.58 575.45,379.30 576.17,379.86 576.90,379.17 577.60,378.69 578.30,377.58 579.00,377.13 579.73,375.81 580.47,375.01 581.20,374.49 581.90,376.04 582.60,375.49 583.30,376.11 584.10,376.21 584.90,376.82 585.70,377.05 586.42,377.07 587.13,376.72 587.85,376.59 588.57,376.20 589.28,376.59 590.00,376.27 590.65,376.21 591.30,376.04 591.95,375.84 592.60,375.40 593.20,374.50 593.80,373.60 594.40,374.70 595.00,375.80 595.67,375.66 596.33,376.17 597.00,376.50 597.67,377.03 598.33,376.08 599.00,376.75 599.67,375.22 600.33,374.89 601.00,376.50 601.67,375.92 602.33,375.82 603.00,375.44 603.71,375.51 604.43,374.35 605.14,375.44 605.86,374.40 606.57,375.12 607.29,374.42 608.00,373.62 608.69,373.29 609.38,374.56 610.06,373.67 610.75,373.37 611.44,373.59 612.12,373.05 612.81,372.83 613.50,373.03 614.22,372.86 614.94,373.46 615.67,372.36 616.39,373.24 617.11,372.97 617.83,372.70 618.56,372.08 619.28,371.30 620.00,371.04 620.68,370.71 621.36,370.16 622.03,370.36 622.71,369.81 623.39,371.00 624.07,370.13 624.74,369.33 625.42,368.23 626.10,369.18 626.84,368.64 627.58,367.93 628.31,367.60 629.05,366.61 629.79,368.05 630.52,367.36 631.26,368.70 632.00,366.79 632.73,366.42 633.47,367.12 634.20,366.02 634.93,365.75 635.67,365.12 636.40,364.69 637.13,365.72 637.87,365.12 638.60,364.74 639.33,363.55 640.07,363.35 640.80,362.34 641.53,363.08 642.27,361.15 643.00,361.78 643.64,361.80 644.28,361.50 644.92,359.50 645.56,360.30 646.20,359.10 646.80,357.80 647.40,356.50 648.20,352.90 648.90,346.00 649.50,337.80 650.40,330.00 651.40,325.20 652.40,329.00 653.30,334.00 654.20,337.80 654.75,335.90 655.30,334.00 655.95,331.00 656.60,328.00 657.30,326.00 658.00,324.00 658.80,325.80 659.50,327.70 660.17,327.87 660.83,326.11 661.50,326.75 662.19,324.92 662.87,324.87 663.56,325.56 664.24,324.52 664.93,325.21 665.61,324.35 666.30,323.61 667.04,323.94 667.78,323.61 668.52,321.27 669.26,323.31 670.00,321.77 670.76,321.58 671.52,319.26 672.28,319.49 673.04,319.20 673.80,319.27 674.50,317.25 675.20,316.99 675.90,315.56 676.60,316.13 677.30,315.89 678.00,314.42 678.76,313.73 679.52,313.63 680.28,313.52 681.04,312.02 681.80,310.59 682.80,309.80"/>
<rect x="383.60" y="283.25" width="299.55" height="222.40" fill="none" stroke="#000" stroke-width="1.75"/>
<line x1="383.60" y1="505.65" x2="383.60" y2="511.35" stroke="#000" stroke-width="1.65"/>
<text x="383.60" y="522.80" text-anchor="middle" class="tk">0</text>
<line x1="410.83" y1="505.65" x2="410.83" y2="508.95" stroke="#000" stroke-width="1.65"/>
<line x1="438.06" y1="505.65" x2="438.06" y2="511.35" stroke="#000" stroke-width="1.65"/>
<text x="438.06" y="522.80" text-anchor="middle" class="tk">200</text>
<line x1="465.29" y1="505.65" x2="465.29" y2="508.95" stroke="#000" stroke-width="1.65"/>
<line x1="492.52" y1="505.65" x2="492.52" y2="511.35" stroke="#000" stroke-width="1.65"/>
<text x="492.52" y="522.80" text-anchor="middle" class="tk">400</text>
<line x1="519.75" y1="505.65" x2="519.75" y2="508.95" stroke="#000" stroke-width="1.65"/>
<line x1="546.98" y1="505.65" x2="546.98" y2="511.35" stroke="#000" stroke-width="1.65"/>
<text x="546.98" y="522.80" text-anchor="middle" class="tk">600</text>
<line x1="574.21" y1="505.65" x2="574.21" y2="508.95" stroke="#000" stroke-width="1.65"/>
<line x1="601.44" y1="505.65" x2="601.44" y2="511.35" stroke="#000" stroke-width="1.65"/>
<text x="601.44" y="522.80" text-anchor="middle" class="tk">800</text>
<line x1="628.67" y1="505.65" x2="628.67" y2="508.95" stroke="#000" stroke-width="1.65"/>
<line x1="655.90" y1="505.65" x2="655.90" y2="511.35" stroke="#000" stroke-width="1.65"/>
<text x="655.90" y="522.80" text-anchor="middle" class="tk">1000</text>
<line x1="683.13" y1="505.65" x2="683.13" y2="508.95" stroke="#000" stroke-width="1.65"/>
<text x="533.92" y="543.60" text-anchor="middle" class="tt" style="font-size:12.35px">Binding Energy (eV)</text>
<text x="451.60" y="420.30" class="lb">C 1s</text>
<text x="472.80" y="333.00" class="lb">Ag 3d</text>
<text x="520.20" y="333.80" class="lb">O 1s</text>
<text x="534.40" y="353.30" class="lb">Ag 3p</text>
<text x="569.90" y="368.80" class="lb">Ag 3s</text>
<text x="411.80" y="460.60" class="lb">S 2p</text>
<text x="433.40" y="453.00" class="lb">S 2s</text>
<text x="351.00" y="311.60" class="pl">d</text>
<rect x="578.20" y="296.20" width="94.60" height="18.70" fill="#000"/>
<rect x="575.20" y="293.20" width="94.60" height="18.70" fill="#fff" stroke="#444" stroke-width="0.6"/>
<text x="581.10" y="306.70" class="lg" fill="#ff7a0c" style="font-size:13.15px">AgNPs-LA-CP</text>
</svg>
</body></html>
